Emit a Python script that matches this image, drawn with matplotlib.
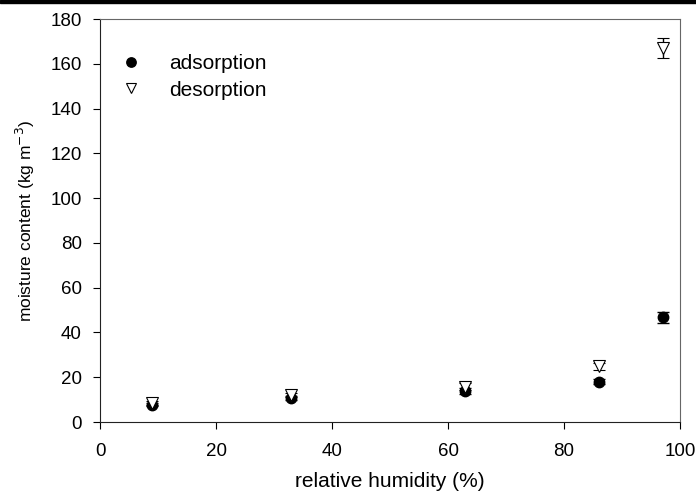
import numpy as np
import matplotlib.pyplot as plt
from matplotlib.patches import Rectangle

plt.rcParams['font.family'] = ['Liberation Sans', 'DejaVu Sans']

# relative humidity (%) and moisture content (kg m-3)
rh = [9, 33, 63, 86, 97]
adsorption = [7.8, 10.8, 13.8, 18.0, 46.8]
adsorption_err = [0.8, 0.8, 1.2, 1.0, 2.4]
desorption = [8.5, 12.0, 15.8, 24.8, 167.0]
desorption_err = [0.8, 0.8, 1.5, 1.5, 4.5]

fig = plt.figure(figsize=(6.96, 4.94), dpi=100)
ax = fig.add_axes([0.1437, 0.1457, 0.8333, 0.8158])

ax.errorbar(rh, adsorption, yerr=adsorption_err, fmt='o', color='black',
            markersize=7.5, capsize=4.5, elinewidth=1, capthick=1,
            label='adsorption', zorder=3)
ax.errorbar(rh, desorption, yerr=desorption_err, fmt='v', color='black',
            markerfacecolor='white', markeredgewidth=0.8, markersize=8,
            capsize=4.5, elinewidth=1, capthick=1,
            label='desorption', zorder=4)

ax.set_xlim(0, 100)
ax.set_ylim(0, 180)
ax.set_xticks(np.arange(0, 101, 20))
ax.set_yticks(np.arange(0, 181, 20))
ax.tick_params(direction='out', length=5, labelsize=13.5, top=False, right=False)
ax.tick_params(axis='x', pad=10)
ax.tick_params(axis='y', pad=8)
for side in ['top', 'right']:
    ax.spines[side].set_color('#666666')
for side in ['left', 'bottom']:
    ax.spines[side].set_color('#222222')

ax.set_xlabel('relative humidity (%)', fontsize=15, labelpad=9)
ax.set_ylabel('moisture content (kg m$^{-3}$)', fontsize=12.5, labelpad=10)

handles, labels = ax.get_legend_handles_labels()
handles = [h[0] for h in handles]
ax.legend(handles, labels, loc='upper left', bbox_to_anchor=(-0.014, 0.985),
          frameon=False, fontsize=15, handlelength=1.0, handletextpad=1.3,
          labelspacing=0.35, borderaxespad=1.0, markerscale=0.9)

# dark band along the top edge of the figure
fig.patches.append(Rectangle((0, 0.994), 1, 0.006, transform=fig.transFigure,
                             color='black', zorder=10))

fig.savefig('out.png', dpi=100)
